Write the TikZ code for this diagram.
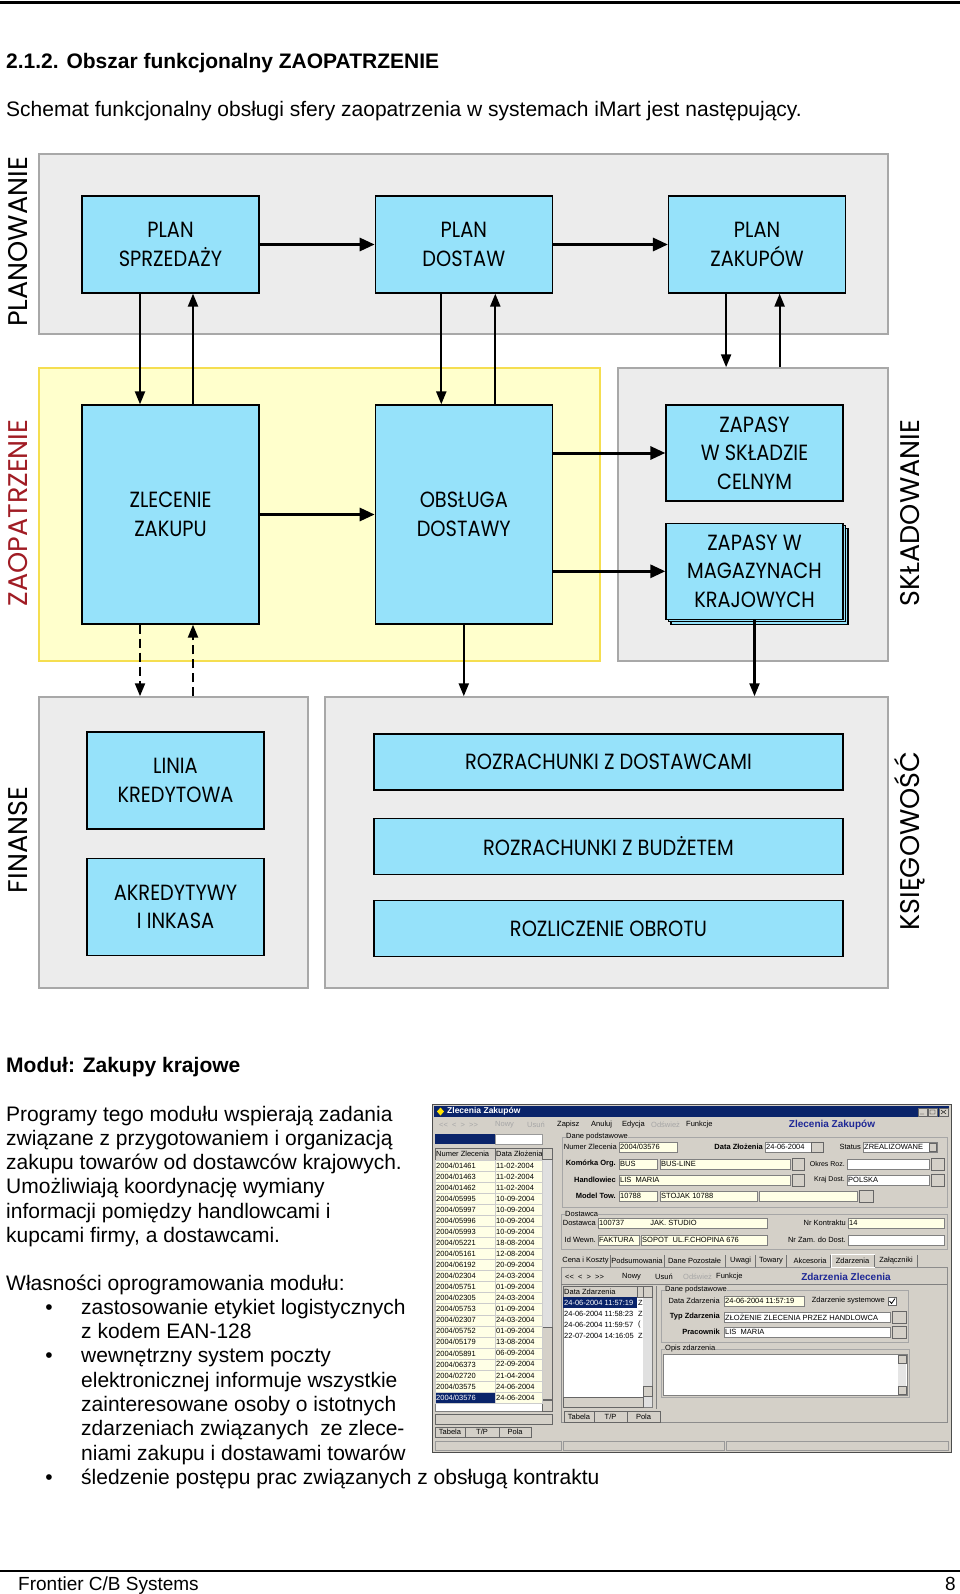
\documentclass[tikz,border=0pt]{standalone}
\usepackage{fontspec}
\setmainfont{Liberation Sans}
\newfontfamily\ramkafont[FakeStretch=0.88]{Poppins}
\newfontfamily\obszarfont{Poppins}
\usetikzlibrary{positioning,arrows.meta,shadows}

\definecolor{modcyan}{RGB}{150,226,250}
\definecolor{szary}{RGB}{236,236,236}
\definecolor{szaryramka}{RGB}{168,168,168}
\definecolor{zolty}{RGB}{255,255,204}
\definecolor{zoltyramka}{RGB}{245,222,80}
\definecolor{bordo}{RGB}{160,28,36}
\definecolor{okno}{RGB}{212,208,200}
\definecolor{granat}{RGB}{10,36,106}
\definecolor{polezolte}{RGB}{255,255,230}
\definecolor{niebieski}{RGB}{30,40,150}

\begin{document}
\begin{tikzpicture}[x=1pt,y=-1pt,
  tekst/.style={anchor=base west, inner sep=0pt, font=\fontsize{21}{24}\selectfont},
  naglowek/.style={tekst, font=\fontsize{21}{24}\selectfont\bfseries},
  obszar/.style={draw=szaryramka, line width=1.5pt, fill=szary, inner sep=0pt},
  modul/.style={draw, line width=1.3pt, fill=modcyan, align=center, inner sep=0pt,
    minimum width=177pt, minimum height=97pt, font=\ramkafont\fontsize{22}{28.5}\selectfont},
  pasek/.style={modul, minimum width=469pt, minimum height=56pt},
  etykieta/.style={rotate=90, inner sep=0pt, font=\obszarfont\fontsize{27}{27}\selectfont},
  strzalka/.style={line width=3pt, -{Triangle[length=15pt,width=13pt]}},
  pion/.style={line width=2.2pt, -{Triangle[length=13pt,width=10pt]}},
  przerywana/.style={pion, dash pattern=on 9pt off 5pt},
  ui/.style={inner sep=0pt, font=\fontsize{7.5}{8}\selectfont},
  uib/.style={ui, font=\fontsize{7.5}{8}\selectfont\bfseries},
  pole/.style={draw=black!50, fill=polezolte, line width=0.4pt},
  przycisk/.style={draw=black!60, fill=okno, line width=0.4pt},
  grupa/.style={draw=black!35, line width=0.5pt}]
\useasboundingbox (0,0) rectangle (960,1594);

% naglowek strony
\draw[line width=2.5pt] (0,2.5) -- (960,2.5);
\node[naglowek] (tyt) at (6,69) {2.1.2. Obszar funkcjonalny ZAOPATRZENIE};
\node[tekst] (wstep) at (6,117) {Schemat funkcjonalny obsługi sfery zaopatrzenia w systemach iMart jest następujący.};

% obszary
\node[obszar, minimum width=849pt, minimum height=180pt] (plan) at (463.5,244) {};
\node[obszar, fill=zolty, draw=zoltyramka, minimum width=561pt, minimum height=293pt] (zaop) at (319.5,514.5) {};
\node[obszar, minimum width=270pt, minimum height=293pt] (skl) at (753,514.5) {};
\node[obszar, minimum width=269pt, minimum height=291pt] (fin) at (173.5,842.5) {};
\node[obszar, minimum width=563pt, minimum height=291pt] (ksieg) at (606.5,842.5) {};

\node[etykieta] (lplan) at (18,242) {PLANOWANIE};
\node[etykieta, text=bordo] (lzaop) at (18,513) {ZAOPATRZENIE};
\node[etykieta] (lskl) at (910,513) {SKŁADOWANIE};
\node[etykieta] (lfin) at (18,840) {FINANSE};
\node[etykieta] (lksieg) at (910,841) {KSIĘGOWOŚĆ};

% moduly
\node[modul] (ps) at (170.5,244.5) {PLAN\\SPRZEDAŻY};
\node[modul, right=115pt of ps] (pd) {PLAN\\DOSTAW};
\node[modul, right=115pt of pd] (pz) {PLAN\\ZAKUPÓW};
\node[modul, minimum height=219pt] (zl) at (170.5,514.5) {ZLECENIE\\ZAKUPU};
\node[modul, minimum height=219pt, right=115pt of zl] (obs) {OBSŁUGA\\DOSTAWY};
\node[modul, minimum height=96pt] (cel) at (754.5,453) {ZAPASY\\W SKŁADZIE\\CELNYM};
\node[modul, minimum height=96pt, below=21pt of cel,
  copy shadow={shadow xshift=5pt,shadow yshift=-5pt},
  copy shadow={shadow xshift=2.5pt,shadow yshift=-2.5pt}] (mag) {ZAPASY W\\MAGAZYNACH\\KRAJOWYCH};
\node[modul] (lin) at (175.5,780.5) {LINIA\\KREDYTOWA};
\node[modul, below=28pt of lin] (akr) {AKREDYTYWY\\I INKASA};
\node[pasek] (roz1) at (608.5,762) {ROZRACHUNKI Z DOSTAWCAMI};
\node[pasek, below=27pt of roz1] (roz2) {ROZRACHUNKI Z BUDŻETEM};
\node[pasek, below=25pt of roz2] (roz3) {ROZLICZENIE OBROTU};

% przeplywy
\draw[strzalka] (ps.east) -- (pd.west);
\draw[strzalka] (pd.east) -- (pz.west);
\draw[strzalka] (zl.east) -- (obs.west);
\draw[strzalka] (obs.east |- cel.west) -- (cel.west);
\draw[strzalka] (obs.east |- mag.west) -- (mag.west);

\draw[pion] ([xshift=-30.5pt]ps.south) -- ([xshift=-30.5pt]zl.north);
\draw[pion] ([xshift=22.5pt]zl.north) -- ([xshift=22.5pt]ps.south);
\draw[pion] ([xshift=-22.5pt]pd.south) -- ([xshift=-22.5pt]obs.north);
\draw[pion] ([xshift=31.5pt]obs.north) -- ([xshift=31.5pt]pd.south);
\coordinate (pzd) at ([xshift=-31pt]pz.south);
\coordinate (pzu) at ([xshift=22.5pt]pz.south);
\draw[pion] (pzd) -- (pzd |- skl.north);
\draw[pion] (pzu |- skl.north) -- (pzu);
\coordinate (zld) at ([xshift=-30.5pt]zl.south);
\coordinate (zlu) at ([xshift=22.5pt]zl.south);
\draw[przerywana] (zld) -- (zld |- fin.north);
\draw[przerywana] (zlu |- fin.north) -- (zlu);
\draw[pion] (obs.south) -- (obs.south |- ksieg.north);
\draw[pion] (mag.south) -- (mag.south |- ksieg.north);

% opis modulu
\node[naglowek] (mod) at (6,1072) {Moduł: Zakupy krajowe};
\foreach \linia [count=\i from 0] in {Programy tego modułu wspierają zadania,
  związane z przygotowaniem i organizacją, zakupu towarów od dostawców krajowych.,
  Umożliwiają koordynację wymiany, informacji pomiędzy handlowcami i, {kupcami firmy, a dostawcami.}}
  \node[tekst] (par\i) at (6,{1121+24.3*\i}) {\linia};
\node[tekst] (wl) at (6,1290) {Własności oprogramowania modułu:};
\foreach \linia [count=\i] in {zastosowanie etykiet logistycznych, z kodem EAN-128,
  wewnętrzny system poczty, elektronicznej informuje wszystkie, zainteresowane osoby o istotnych,
  zdarzeniach związanych\ \ ze zlece-, niami zakupu i dostawami towarów,
  śledzenie postępu prac związanych z obsługą kontraktu}
  \node[tekst] (w\i) at (81,{1290+24.3*\i}) {\linia};
\foreach \i in {1,3,8}
  \node[tekst, anchor=base] (k\i) at (49,{1290+24.3*\i}) {•};

% zrzut ekranu
\begin{scope}[shift={(432,1104)}]
\draw[fill=okno, draw=black!70, line width=0.8pt] (0,0) rectangle (519,348);
\fill[granat] (2,2) rectangle (517,13);
\fill[yellow!85!orange] (5,7.5) -- (8.5,3.5) -- (12,7.5) -- (8.5,11.5) -- cycle;
\node[uib, text=white, anchor=west, font=\fontsize{8.5}{9}\selectfont\bfseries] (oknotyt) at (15,7.5) {Zlecenia Zakupów};
\foreach \x in {486,496,507} \draw[przycisk] (\x,4) rectangle ++(9,8);
\draw (488,10) -- (492,10) (498,6) rectangle (503,10) (509,6) -- (514,10) (509,10) -- (514,6);
% menu
\node[ui, anchor=west, text=black!35] (nav) at (7,21) {<\kern0pt<\ \ <\ \ >\ \ >\kern0pt>};
\foreach \x/\t/\k in {63/Nowy/black!35, 95/Usuń/black!35, 125/Zapisz/black, 159/Anuluj/black, 190/Edycja/black, 219/Odśwież/black!35, 254/Funkcje/black}
  \node[ui, anchor=west, text=\k] (m\x) at (\x,21) {\t};
\node[uib, text=niebieski, font=\fontsize{10}{11}\selectfont\bfseries] (oknonagl) at (400,21) {Zlecenia Zakupów};
% lista zlecen
\fill[granat] (3,30) rectangle (63,40);
\draw[fill=white, draw=black!40] (63,30) rectangle (110,40);
\draw[fill=white, draw=black!50] (3,44) rectangle (120,307);
\draw[przycisk] (3,44) rectangle (63,56) (63,44) rectangle (110,56);
\node[ui, anchor=west] (hnr) at (4,50) {Numer Zlecenia};
\node[ui, anchor=west] (hdt) at (64,50) {Data Złożenia};
\fill[black!12] (110,56) rectangle (120,296);
\draw[przycisk] (110,44) rectangle (120,55) (110,296) rectangle (120,307) (110,223) rectangle (120,295);
\foreach \nr/\dt [count=\i from 0] in {01461/11-02-2004, 01463/11-02-2004, 01462/11-02-2004,
  05995/10-09-2004, 05997/10-09-2004, 05996/10-09-2004, 05993/10-09-2004, 05221/18-08-2004,
  05161/12-08-2004, 06192/20-09-2004, 02304/24-03-2004, 05751/01-09-2004, 02305/24-03-2004,
  05753/01-09-2004, 02307/24-03-2004, 05752/01-09-2004, 05179/13-08-2004, 05891/06-09-2004,
  06373/22-09-2004, 02720/21-04-2004, 03575/24-06-2004, 03576/24-06-2004}{
  \ifnum\i=21 \def\tlo{granat}\def\kol{white}\else\def\tlo{polezolte}\def\kol{black}\fi
  \pgfmathsetmacro\yy{56+11.05*\i}
  \draw[fill=\tlo, draw=black!20] (3,\yy) rectangle (63,\yy+11.05);
  \draw[fill=polezolte, draw=black!20] (63,\yy) rectangle (110,\yy+11.05);
  \node[ui, anchor=west, text=\kol] (n\i) at (4,\yy+5.5) {2004/\nr};
  \node[ui, anchor=west] (d\i) at (64,\yy+5.5) {\dt};
}
\draw[przycisk] (3,310) rectangle (120,320);
\foreach \xa/\xb/\t in {3/33/Tabela, 33/67/{T/P}, 67/99/Pola}{
  \draw[przycisk] (\xa,323) rectangle (\xb,333);
  \node[ui] (t\xa) at ({(\xa+\xb)/2},328) {\t};
}
\draw[draw=black!40] (3,337) rectangle (129,346) (131,337) rectangle (292,346) (294,337) rectangle (516,346);
% dane podstawowe
\draw[grupa] (130,33) rectangle (515,103);
\node[ui, anchor=west, fill=okno] (gdp) at (134,33) {Dane podstawowe};
\node[ui, anchor=east] (lnz) at (185,43) {Numer Zlecenia};
\draw[pole] (187,38) rectangle (245,48);
\node[ui, anchor=west] (vnz) at (188,43) {2004/03576};
\node[uib, anchor=east] (ldz) at (331,43) {Data Złożenia};
\draw[pole, fill=white] (333,38) rectangle (379,48);
\node[ui, anchor=west] (vdz) at (334,43) {24-06-2004};
\draw[przycisk] (379,38) rectangle (391,48);
\node[ui, anchor=east] (lst) at (429,43) {Status};
\draw[pole, fill=white] (431,38) rectangle (505,48);
\node[ui, anchor=west] (vst) at (432,43) {ZREALIZOWANE};
\draw[przycisk] (497,39) rectangle (504,47);
\node[uib, anchor=east] (lko) at (184,60) {Komórka Org.};
\draw[pole] (187,55) rectangle (225,65) (228,55) rectangle (358,65);
\node[ui, anchor=west] (vko) at (188,60) {BUS};
\node[ui, anchor=west] (vko2) at (229,60) {BUS-LINE};
\node[ui, anchor=east, font=\fontsize{7}{8}\selectfont] (lor) at (413,60) {Okres Roz.};
\draw[pole, fill=white] (415,55) rectangle (497,65);
\node[uib, anchor=east] (lha) at (184,76) {Handlowiec};
\draw[pole] (187,71) rectangle (358,81);
\node[ui, anchor=west] (vha) at (188,76) {LIS\ \ MARIA};
\node[ui, anchor=east, font=\fontsize{7}{8}\selectfont] (lkr) at (413,76) {Kraj Dost.};
\draw[pole, fill=white] (415,71) rectangle (497,81);
\node[ui, anchor=west] (vkr) at (416,76) {POLSKA};
\foreach \yy in {54,70} \draw[przycisk] (360,\yy) rectangle (372,\yy+12) (499,\yy) rectangle (512,\yy+12);
\node[uib, anchor=east] (lmt) at (184,92) {Model Tow.};
\draw[pole] (187,87) rectangle (225,97) (228,87) rectangle (325,97) (327,87) rectangle (425,97);
\node[ui, anchor=west] (vmt) at (188,92) {10788};
\node[ui, anchor=west] (vmt2) at (229,92) {STOJAK 10788};
\draw[przycisk] (427,86) rectangle (441,98);
% dostawca
\draw[grupa] (129,110) rectangle (515,145);
\node[ui, anchor=west, fill=okno] (gdo) at (133,110) {Dostawca};
\node[ui, anchor=east] (ldo) at (164,119) {Dostawca};
\draw[pole] (166,114) rectangle (335,124);
\node[ui, anchor=west] (vdo) at (167,119) {100737\hspace{3.5em}JAK. STUDIO};
\node[ui, anchor=east] (lnk) at (414,119) {Nr Kontraktu};
\draw[pole] (416,114) rectangle (512,124);
\node[ui, anchor=west] (vnk) at (417,119) {14};
\node[ui, anchor=east] (liw) at (164,136) {Id Wewn.};
\draw[pole] (166,131) rectangle (207,141) (209,131) rectangle (335,141);
\node[ui, anchor=west] (viw) at (167,136) {FAKTURA};
\node[ui, anchor=west] (viw2) at (210,136) {SOPOT\ \ UL.F.CHOPINA 676};
\node[ui, anchor=east] (lnzd) at (414,136) {Nr Zam. do Dost.};
\draw[pole, fill=white] (416,131) rectangle (512,141);
% zakladki
\draw[draw=black!45, fill=okno] (129,163) rectangle (515,318);
\draw[draw=white, fill=okno] (399,150) rectangle (442,163);
\foreach \xa/\xb/\t in {131/176/Cena i Koszty, 180/230/Podsumowania, 234/291/Dane Pozostałe,
  296/321/Uwagi, 326/352/Towary, 360/396/Akcesoria, 401/440/Zdarzenia, 445/483/Załączniki}{
  \node[ui] (z\xa) at ({(\xa+\xb)/2},157) {\t};
  \draw[black!55] (\xb+2,151) -- (\xb+2,163);
}
\node[ui, anchor=west] (nav2) at (133,173) {<\kern0pt<\ \ <\ \ >\ \ >\kern0pt>};
\foreach \x/\t/\k in {190/Nowy/black, 223/Usuń/black, 251/Odśwież/black!35, 284/Funkcje/black}
  \node[ui, anchor=west, text=\k] (mm\x) at (\x,173) {\t};
\node[uib, text=niebieski, font=\fontsize{10}{11}\selectfont\bfseries] (zdnagl) at (414,173) {Zdarzenia Zlecenia};
\draw[black!50] (129,180) -- (515,180);
% lista zdarzen
\draw[fill=white, draw=black!50] (131,182) rectangle (220,303);
\draw[przycisk] (131,182) rectangle (205,193) (205,182) rectangle (211,193);
\node[ui, anchor=west] (hzd) at (132,187.5) {Data Zdarzenia};
\fill[black!12] (211,182) rectangle (220,303);
\draw[przycisk] (211,182) rectangle (220,193) (211,282) rectangle (220,292);
\fill[granat] (131,193) rectangle (205,204);
\foreach \t/\c [count=\i from 0] in {{24-06-2004 11:57:19}/Z, {24-06-2004 11:58:23}/Z, {24-06-2004 11:59:57}/(, {22-07-2004 14:16:05}/Z}{
  \ifnum\i=0 \def\kol{white}\else\def\kol{black}\fi
  \node[ui, anchor=west, text=\kol] (e\i) at (132,{198.5+11*\i}) {\t};
  \node[ui, anchor=west] (c\i) at (206,{198.5+11*\i}) {\c};
}
\draw[przycisk] (131,293) rectangle (211,303);
\foreach \xa/\xb/\t in {132/162/Tabela, 162/195/{T/P}, 195/228/Pola}{
  \draw[przycisk] (\xa,307) rectangle (\xb,318);
  \node[ui] (u\xa) at ({(\xa+\xb)/2},312.5) {\t};
}
\draw[black!50] (224,182) -- (224,305);
% szczegoly zdarzenia
\draw[grupa] (229,186) rectangle (476,238);
\node[ui, anchor=west, fill=okno] (gzd) at (233,186) {Dane podstawowe};
\node[ui, anchor=east] (ldzd) at (288,197) {Data Zdarzenia};
\draw[pole] (292,192) rectangle (372,202);
\node[ui, anchor=west] (vdzd) at (293,197) {24-06-2004 11:57:19};
\node[ui, anchor=east] (lzs) at (453,197) {Zdarzenie systemowe};
\draw[fill=white, draw=black!60] (456,193) rectangle (464,201);
\draw[line width=0.8pt] (457.5,197) -- (459.5,199.5) -- (463,194.5);
\node[uib, anchor=east] (ltz) at (288,213) {Typ Zdarzenia};
\draw[pole, fill=white] (292,208) rectangle (458,218);
\node[ui, anchor=west] (vtz) at (293,213) {ZŁOŻENIE ZLECENIA PRZEZ HANDLOWCA};
\node[uib, anchor=east] (lpr) at (288,228) {Pracownik};
\draw[pole, fill=white] (292,223) rectangle (458,233);
\node[ui, anchor=west] (vpr) at (293,228) {LIS\ \ MARIA};
\draw[przycisk] (460,207) rectangle (474,219) (460,222) rectangle (474,234);
\draw[grupa] (229,245) rectangle (477,293);
\node[ui, anchor=west, fill=okno] (gopis) at (233,245) {Opis zdarzenia};
\draw[fill=white, draw=black!50] (231,250) rectangle (475,291);
\fill[black!10] (466,251) rectangle (474,290);
\draw[przycisk] (466,251) rectangle (474,259) (466,282) rectangle (474,290);
\end{scope}

% stopka
\draw[line width=2pt] (0,1571) -- (960,1571);
\node[tekst, font=\fontsize{19}{22}\selectfont] (stopka) at (18,1590) {Frontier C/B Systems};
\node[tekst, anchor=base east, font=\fontsize{19}{22}\selectfont] (strona) at (956,1590) {8};
\end{tikzpicture}
\end{document}
